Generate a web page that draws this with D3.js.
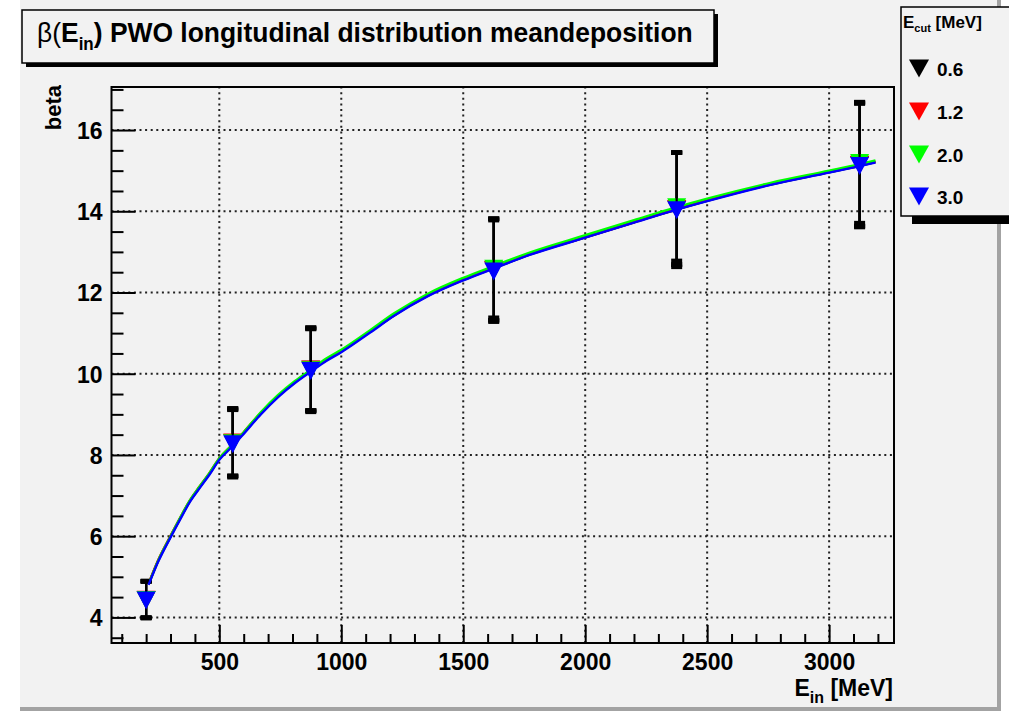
<!DOCTYPE html>
<html><head><meta charset="utf-8">
<script src="https://cdn.jsdelivr.net/npm/d3@7"></script>
<style>
body{margin:0;background:#fff}
svg{display:block}
text{font-family:"Liberation Sans",Arial,Helvetica,sans-serif;font-weight:bold;fill:#000}
</style>
</head><body>
<svg id="chart" width="1009" height="714"></svg>
<script>
// ---------- data ----------
const energies = [200, 555, 875, 1625, 2375, 3125];           // E_in [MeV]
const seriesNames = ["0.6", "1.2", "2.0", "3.0"];              // E_cut [MeV]
const seriesColors = ["#000000", "#ff0000", "#00ff00", "#0000ff"];
const beta06 = [4.44, 8.31, 10.11, 12.56, 14.06, 15.15];
const beta12 = [4.45, 8.32, 10.12, 12.57, 14.07, 15.16];
const beta20 = [4.44, 8.30, 10.10, 12.60, 14.11, 15.20];
const beta30 = [4.43, 8.28, 10.08, 12.53, 14.04, 15.13];
const err06 = [0.45, 0.83, 1.02, 1.25, 1.38, 1.52];
const err12 = [0.45, 0.83, 1.02, 1.25, 1.38, 1.52];
const err20 = [0.45, 0.82, 1.01, 1.22, 1.33, 1.49];
const err30 = [0.45, 0.83, 1.02, 1.25, 1.41, 1.52];
// fitted curves
const curveE = [210, 250, 300, 340, 380, 420, 460, 500, 555, 600, 670, 740, 810, 875, 940, 1000, 1120, 1215, 1355, 1500, 1625, 1775, 2000, 2200, 2375, 2500, 2760, 3000, 3125, 3190];
const fit06 = [4.82, 5.40, 5.99, 6.44, 6.87, 7.21, 7.54, 7.90, 8.24, 8.54, 9.02, 9.44, 9.79, 10.07, 10.34, 10.55, 11.04, 11.43, 11.92, 12.31, 12.60, 12.94, 13.36, 13.73, 14.05, 14.26, 14.66, 14.96, 15.12, 15.21];
const fit12 = [4.83, 5.42, 6.01, 6.46, 6.89, 7.23, 7.56, 7.92, 8.26, 8.56, 9.04, 9.45, 9.80, 10.08, 10.35, 10.56, 11.05, 11.44, 11.93, 12.32, 12.61, 12.95, 13.36, 13.73, 14.05, 14.27, 14.67, 14.98, 15.14, 15.23];
const fit20 = [4.82, 5.41, 6.00, 6.46, 6.89, 7.23, 7.56, 7.92, 8.26, 8.56, 9.05, 9.47, 9.82, 10.10, 10.38, 10.59, 11.08, 11.48, 11.97, 12.36, 12.65, 12.99, 13.41, 13.78, 14.10, 14.31, 14.70, 15.00, 15.16, 15.25];
const fit30 = [4.80, 5.38, 5.97, 6.42, 6.85, 7.19, 7.52, 7.88, 8.22, 8.52, 9.00, 9.42, 9.77, 10.05, 10.32, 10.53, 11.02, 11.42, 11.91, 12.30, 12.59, 12.93, 13.35, 13.72, 14.04, 14.25, 14.65, 14.95, 15.11, 15.20];
const xMajorTicks = [500, 1000, 1500, 2000, 2500, 3000];
const yMajorTicks = [4, 6, 8, 10, 12, 14, 16];
const titleText = ") PWO longitudinal distribution meandeposition";

const betas = [beta06, beta12, beta20, beta30];
const errs = [err06, err12, err20, err30];
const fits = [fit06, fit12, fit20, fit30];

// ---------- layout ----------
const svg = d3.select("#chart");
const F = {left: 111.5, right: 894, top: 87, bottom: 643};
const x = d3.scaleLinear().domain([58, 3266]).range([F.left, F.right]);
const y = d3.scaleLinear().domain([3.37, 17.06]).range([F.bottom, F.top]);
const bg = "#f2f2f2";

// canvas
svg.append("rect").attr("x", 20).attr("y", 0).attr("width", 977).attr("height", 707).attr("fill", bg);
svg.append("rect").attr("x", 997).attr("y", 0).attr("width", 4).attr("height", 711).attr("fill", "#a3a3a3");
svg.append("rect").attr("x", 20).attr("y", 707).attr("width", 981).attr("height", 4).attr("fill", "#a3a3a3");

// grid
const grid = svg.append("g").attr("stroke", "#222").attr("stroke-width", 2).attr("stroke-dasharray", "2,3.6");
grid.selectAll("line.gx").data(xMajorTicks).join("line")
  .attr("x1", d => x(d)).attr("x2", d => x(d)).attr("y1", F.bottom).attr("y2", F.top);
grid.selectAll("line.gy").data(yMajorTicks).join("line")
  .attr("y1", d => y(d)).attr("y2", d => y(d)).attr("x1", F.left).attr("x2", F.right);

// axes via d3 axis (ticks inside the frame)
const xMinor = d3.range(100, 3266, 100).filter(v => v % 500 !== 0);
const yMinor = d3.range(3.5, 17.06, 0.5).filter(v => v % 2 !== 0);
const xAxisMinor = svg.append("g").attr("transform", `translate(0,${F.bottom})`)
  .call(d3.axisTop(x).tickValues(xMinor).tickSize(9).tickFormat(""));
const xAxis = svg.append("g").attr("transform", `translate(0,${F.bottom})`)
  .call(d3.axisTop(x).tickValues(xMajorTicks).tickSize(18).tickFormat(d3.format("d")));
const yAxisMinor = svg.append("g").attr("transform", `translate(${F.left},0)`)
  .call(d3.axisRight(y).tickValues(yMinor).tickSize(12).tickFormat(""));
const yAxis = svg.append("g").attr("transform", `translate(${F.left},0)`)
  .call(d3.axisRight(y).tickValues(yMajorTicks).tickSize(24).tickFormat(d3.format("d")));
[xAxisMinor, xAxis, yAxisMinor, yAxis].forEach(g => {
  g.select(".domain").remove();
  g.selectAll(".tick line").attr("stroke", "#000").attr("stroke-width", 2);
});
xAxis.selectAll(".tick text").attr("y", 27).attr("dy", 0)
  .attr("font-size", 23).attr("text-anchor", "middle").attr("fill", "#000")
  .style("font-family", '"Liberation Sans",Arial,sans-serif').style("font-weight", "bold");
yAxis.selectAll(".tick text").attr("x", -9).attr("dy", "0.36em")
  .attr("font-size", 23).attr("text-anchor", "end").attr("fill", "#000")
  .style("font-family", '"Liberation Sans",Arial,sans-serif').style("font-weight", "bold");

// frame
svg.append("rect").attr("x", F.left).attr("y", F.top).attr("width", F.right - F.left).attr("height", F.bottom - F.top)
  .attr("fill", "none").attr("stroke", "#000").attr("stroke-width", 2);

// series
const line = d3.line().x(d => x(d[0])).y(d => y(d[1])).curve(d3.curveMonotoneX);
const tri = (cx, cy, w, h) => `M${cx - w / 2},${cy - h * 0.47}L${cx + w / 2},${cy - h * 0.47}L${cx},${cy + h * 0.53}Z`;
const plot = svg.append("g");
seriesNames.forEach((name, si) => {
  const g = plot.append("g");
  const pts = energies.map((e, i) => ({e, v: betas[si][i], err: errs[si][i]}));
  // error bars
  const eb = g.selectAll("g.eb").data(pts).join("g");
  eb.append("line").attr("x1", d => x(d.e)).attr("x2", d => x(d.e))
    .attr("y1", d => y(d.v - d.err)).attr("y2", d => y(d.v + d.err))
    .attr("stroke", "#000").attr("stroke-width", 2.2);
  eb.append("rect").attr("x", d => x(d.e) - 5.5).attr("y", d => y(d.v + d.err) - 2.2).attr("width", 11).attr("height", 4.4).attr("fill", "#000");
  eb.append("rect").attr("x", d => x(d.e) - 5.5).attr("y", d => y(d.v - d.err) - 2.2).attr("width", 11).attr("height", 4.4).attr("fill", "#000");
  // markers
  g.selectAll("path.m").data(pts).join("path")
    .attr("d", d => tri(x(d.e), y(d.v), 19, 18)).attr("fill", seriesColors[si]);
  // fit curve
  g.append("path").datum(curveE.map((e, i) => [e, fits[si][i]]))
    .attr("d", line).attr("fill", "none").attr("stroke", seriesColors[si]).attr("stroke-width", 2.4);
});

// axis titles
svg.append("text").attr("transform", "translate(61,85) rotate(-90)")
  .attr("text-anchor", "end").attr("font-size", 22).text("beta");
const xt = svg.append("text").attr("x", 893).attr("y", 696).attr("text-anchor", "end").attr("font-size", 23);
xt.append("tspan").text("E");
xt.append("tspan").attr("font-size", 16).attr("dy", 7).text("in");
xt.append("tspan").attr("dy", -7).text(" [MeV]");

// title box
svg.append("rect").attr("x", 26).attr("y", 14).attr("width", 692).attr("height", 53).attr("fill", "#000");
svg.append("rect").attr("x", 22).attr("y", 10).attr("width", 692).attr("height", 53)
  .attr("fill", bg).attr("stroke", "#000").attr("stroke-width", 1.5);
const tt = svg.append("text").attr("x", 37).attr("y", 42).attr("font-size", 28);
tt.append("tspan").style("font-weight", "normal").text("β(");
tt.append("tspan").text("E");
tt.append("tspan").attr("font-size", 18).attr("dy", 8).text("in");
tt.append("tspan").attr("dy", -8).text(titleText);
const tw = tt.node().getComputedTextLength();
const target = 656;
tt.attr("transform", `translate(37,0) scale(${target / tw},1) translate(-37,0)`);

// legend
svg.append("rect").attr("x", 912).attr("y", 216).attr("width", 110).attr("height", 8).attr("fill", "#000");
svg.append("rect").attr("x", 901).attr("y", 7).attr("width", 115).attr("height", 209)
  .attr("fill", bg).attr("stroke", "#000").attr("stroke-width", 1.5);
const lh = svg.append("text").attr("x", 903).attr("y", 28).attr("font-size", 17);
lh.append("tspan").text("E");
lh.append("tspan").attr("font-size", 11).attr("dy", 4).text("cut");
lh.append("tspan").attr("dy", -4).text(" [MeV]");
const legY = [68, 111, 154, 196];
seriesNames.forEach((name, si) => {
  svg.append("path").attr("d", tri(919, legY[si], 20, 18)).attr("fill", seriesColors[si]);
  svg.append("text").attr("x", 937).attr("y", legY[si] + 8).attr("font-size", 19).text(name);
});
</script>
</body></html>
